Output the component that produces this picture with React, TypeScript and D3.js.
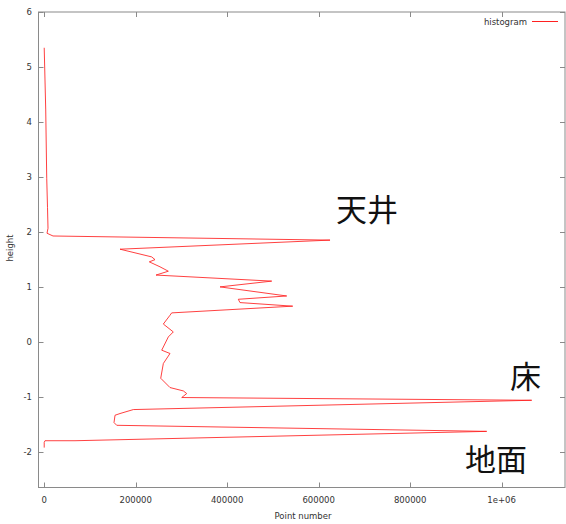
import React, { useRef, useEffect } from 'react';
import * as d3 from 'd3';

// histogram of point heights
const heights = [
    5.35, 4.22, 2.98, 2.45, 2.07, 1.98, 1.93, 1.855, 1.69, 1.55, 1.50, 1.46, 1.37, 1.29, 1.22,
    1.11, 1.005, 0.84, 0.78, 0.72, 0.655, 0.533, 0.49, 0.33, 0.187, 0.096, -0.145, -0.205,
    -0.387, -0.655, -0.824, -0.885, -0.933, -1.005, -1.055, -1.224, -1.296, -1.327, -1.46,
    -1.51, -1.62, -1.79, -1.79, -1.82, -1.915
];
const counts = [
    0, 3300, 5500, 7200, 8300, 6100, 19200, 624800, 165700, 235000, 242200, 229700, 253100, 271300, 244400,
    497300, 384300, 530100, 424300, 428000, 543200, 278700, 275000, 260400, 282200, 271300, 256900, 275000,
    260400, 254700, 275000, 304100, 311500, 300600, 1065700, 194800, 165700, 154800, 152600,
    158500, 967300, 67300, 1700, 0, 0
];

const xTicks = [0, 200000, 400000, 600000, 800000, 1000000];
const xTickLabels = ['0', '200000', '400000', '600000', '800000', '1e+06'];
const yTicks = [-2, -1, 0, 1, 2, 3, 4, 5, 6];

const labels = [
    { text: '天井', x: 336, y: 207 },
    { text: '床', x: 510, y: 374 },
    { text: '地面', x: 465, y: 457 }
];

const Chart = () => {
    const svgRef = useRef(null);

    useEffect(() => {
        const W = 566, H = 524;
        const left = 38.5, right = 565, top = 12, bottom = 487.5;
        const font = '"DejaVu Sans", sans-serif';
        const axisColor = '#8a8a8a';
        const textColor = '#333';

        const svg = d3.select(svgRef.current)
            .attr('width', W)
            .attr('height', H);
        svg.selectAll('*').remove();

        const xScale = d3.scaleLinear().domain([-12500, 1138500]).range([left, right]);
        const yScale = d3.scaleLinear().domain([-2.64, 6]).range([bottom, top]);

        // border
        svg.append('rect')
            .attr('x', left).attr('y', top)
            .attr('width', right - left).attr('height', bottom - top)
            .attr('fill', 'none').attr('stroke', axisColor).attr('stroke-width', 1);

        // x ticks (bottom and mirrored on top)
        xTicks.forEach((t, i) => {
            const x = Math.round(xScale(t)) + 0.5;
            svg.append('line').attr('x1', x).attr('x2', x).attr('y1', bottom).attr('y2', bottom - 5)
                .attr('stroke', axisColor);
            svg.append('line').attr('x1', x).attr('x2', x).attr('y1', top).attr('y2', top + 5)
                .attr('stroke', axisColor);
            svg.append('text')
                .attr('x', xScale(t)).attr('y', 503)
                .attr('text-anchor', 'middle')
                .style('font-family', font).style('font-size', '8.5px')
                .attr('fill', textColor)
                .text(xTickLabels[i]);
        });

        // y ticks (left and mirrored on right)
        yTicks.forEach(t => {
            const y = Math.round(yScale(t)) + 0.5;
            svg.append('line').attr('x1', left).attr('x2', left + 5).attr('y1', y).attr('y2', y)
                .attr('stroke', axisColor);
            svg.append('line').attr('x1', right).attr('x2', right - 5).attr('y1', y).attr('y2', y)
                .attr('stroke', axisColor);
            svg.append('text')
                .attr('x', 32).attr('y', yScale(t) + 3)
                .attr('text-anchor', 'end')
                .style('font-family', font).style('font-size', '8.5px')
                .attr('fill', textColor)
                .text(t);
        });

        // axis titles
        svg.append('text')
            .attr('transform', 'translate(13,248) rotate(-90)')
            .attr('text-anchor', 'middle')
            .style('font-family', font).style('font-size', '8.5px')
            .attr('fill', textColor)
            .text('height');
        svg.append('text')
            .attr('x', 303).attr('y', 519)
            .attr('text-anchor', 'middle')
            .style('font-family', font).style('font-size', '8.5px')
            .attr('fill', textColor)
            .text('Point number');

        // histogram line
        const pts = heights.map((h, i) => [counts[i], h]);
        const line = d3.line()
            .x(d => xScale(d[0]))
            .y(d => yScale(d[1]));
        svg.append('path')
            .datum(pts)
            .attr('d', line)
            .attr('fill', 'none')
            .attr('stroke', '#ff2020')
            .attr('stroke-opacity', 0.85)
            .attr('stroke-width', 1);

        // legend
        svg.append('text')
            .attr('x', 527).attr('y', 24.5)
            .attr('text-anchor', 'end')
            .style('font-family', font).style('font-size', '8.5px')
            .attr('fill', textColor)
            .text('histogram');
        svg.append('line')
            .attr('x1', 532).attr('x2', 558).attr('y1', 21.5).attr('y2', 21.5)
            .attr('stroke', '#ff2020').attr('stroke-width', 1);

        // annotations
        svg.selectAll('.anno')
            .data(labels)
            .enter()
            .append('text')
            .attr('class', 'anno')
            .attr('x', d => d.x)
            .attr('y', d => d.y)
            .attr('dominant-baseline', 'central')
            .style('font-family', '"Noto Sans CJK JP", sans-serif')
            .style('font-size', '31px')
            .attr('fill', '#111')
            .text(d => d.text);
    }, []);

    return <svg ref={svgRef} style={{ position: 'absolute', left: 0, top: 0 }}></svg>;
};

export default function App() {
    return <Chart />;
}
